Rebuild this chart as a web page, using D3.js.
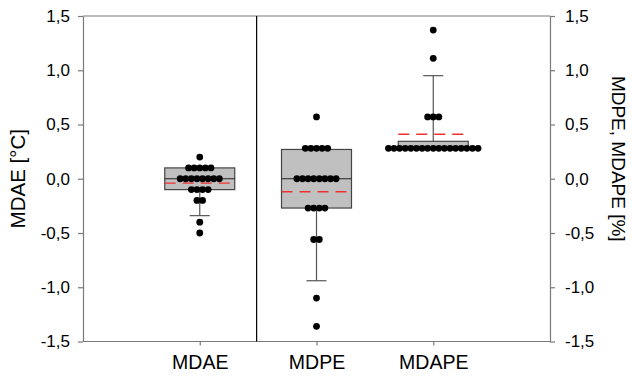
<!DOCTYPE html>
<html>
<head>
<meta charset="utf-8">
<script src="https://cdn.jsdelivr.net/npm/d3@7"></script>
<style>
  body { margin: 0; background: #fff; }
  svg text { font-family: "Liberation Sans", Arial, sans-serif; fill: #000; }
</style>
</head>
<body>
<div id="chart"></div>
<script>
// categories and per-category values
var categories = ["MDAE", "MDPE", "MDAPE"];

var mdae  = [0.2, 0.1, 0.1, 0.1, 0.1, 0.1, 0, 0, 0, 0, 0, 0, 0, 0,
             -0.1, -0.1, -0.1, -0.1, -0.2, -0.2, -0.4, -0.5];
var mdpe  = [0.57, 0.28, 0.28, 0.28, 0.28, 0.28, 0, 0, 0, 0, 0, 0, 0, 0,
             -0.27, -0.27, -0.27, -0.27, -0.56, -0.56, -1.1, -1.36];
var mdape = [1.37, 1.11, 0.57, 0.57, 0.57, 0.28, 0.28, 0.28, 0.28, 0.28, 0.28,
             0.28, 0.28, 0.28, 0.28, 0.28, 0.28, 0.28, 0.28, 0.28, 0.28, 0.28];

// box statistics per category
var q1          = [-0.1, -0.27, 0.28];
var medians     = [0, 0, 0.28];
var q3          = [0.1, 0.27, 0.345];
var whiskerLow  = [-0.34, -0.94, 0.28];
var whiskerHigh = [0.1, 0.27, 0.95];
var means       = [-0.04, -0.12, 0.41];

var yTicks = [-1.5, -1.0, -0.5, 0, 0.5, 1.0, 1.5];

var series = [mdae, mdpe, mdape];

var width = 632, height = 381;
var margin = {top: 16, right: 82, bottom: 40, left: 83};

var svg = d3.select("#chart").append("svg")
    .attr("width", width)
    .attr("height", height);

var x = d3.scalePoint()
    .domain(categories)
    .range([margin.left, width - margin.right])
    .padding(1);

var y = d3.scaleLinear()
    .domain([-1.5, 1.5])
    .range([height - margin.bottom + 0.5, margin.top]);

var loc = d3.formatLocale({decimal: ",", thousands: ".", grouping: [3], currency: ["", ""], minus: "-"});
var fmt = loc.format(".1f");

var axisColor = "#7a7a7a";

// left axis
var gl = svg.append("g")
    .attr("transform", "translate(" + margin.left + ",0)")
    .call(d3.axisLeft(y).tickValues(yTicks).tickFormat(fmt).tickSize(5).tickPadding(8).tickSizeOuter(0));
// right axis
var gr = svg.append("g")
    .attr("transform", "translate(" + (width - margin.right) + ",0)")
    .call(d3.axisRight(y).tickValues(yTicks).tickFormat(fmt).tickSize(5).tickPadding(10).tickSizeOuter(0));
// bottom axis
var gb = svg.append("g")
    .attr("transform", "translate(0," + y(-1.5) + ")")
    .call(d3.axisBottom(x).tickSize(4).tickPadding(10).tickSizeOuter(0));

[gl, gr, gb].forEach(function(g) {
  g.selectAll("path, line").attr("stroke", axisColor).attr("stroke-width", 1.2);
  g.selectAll("text").attr("font-size", 17).attr("fill", "#000");
});
gb.selectAll("text").attr("font-size", 19.5);
gb.select(".domain").attr("d", "M" + margin.left + ",0H" + (width - margin.right));

// top frame line
svg.append("line")
    .attr("x1", margin.left).attr("x2", width - margin.right)
    .attr("y1", y(1.5)).attr("y2", y(1.5))
    .attr("stroke", axisColor).attr("stroke-width", 1.2);

// divider between MDAE and the percent metrics
var divX = (x("MDAE") + x("MDPE")) / 2 - 1.5;
svg.append("line")
    .attr("x1", divX).attr("x2", divX)
    .attr("y1", y(1.5)).attr("y2", y(-1.5))
    .attr("stroke", "#000").attr("stroke-width", 1.2);

// axis titles
svg.append("text")
    .attr("transform", "translate(25," + y(0) + ") rotate(-90)")
    .attr("text-anchor", "middle")
    .attr("font-size", 20.5)
    .text("MDAE [°C]");
svg.append("text")
    .attr("transform", "translate(612," + (y(0) - 20) + ") rotate(90)")
    .attr("text-anchor", "middle")
    .attr("font-size", 19)
    .text("MDPE, MDAPE [%]");

var boxW = 70, capW = 20, dotStep = 5.6, dotR = 3.4;

categories.forEach(function(c, i) {
  var cx = x(c);
  var g = svg.append("g");

  // whiskers
  if (whiskerLow[i] < q1[i]) {
    g.append("line").attr("x1", cx).attr("x2", cx)
      .attr("y1", y(q1[i])).attr("y2", y(whiskerLow[i]))
      .attr("stroke", "#555").attr("stroke-width", 1.2);
    g.append("line").attr("x1", cx - capW / 2).attr("x2", cx + capW / 2)
      .attr("y1", y(whiskerLow[i])).attr("y2", y(whiskerLow[i]))
      .attr("stroke", "#555").attr("stroke-width", 1.2);
  }
  if (whiskerHigh[i] > q3[i]) {
    g.append("line").attr("x1", cx).attr("x2", cx)
      .attr("y1", y(q3[i])).attr("y2", y(whiskerHigh[i]))
      .attr("stroke", "#555").attr("stroke-width", 1.2);
    g.append("line").attr("x1", cx - capW / 2).attr("x2", cx + capW / 2)
      .attr("y1", y(whiskerHigh[i])).attr("y2", y(whiskerHigh[i]))
      .attr("stroke", "#555").attr("stroke-width", 1.2);
  }

  // box
  g.append("rect")
    .attr("x", cx - boxW / 2)
    .attr("y", y(q3[i]))
    .attr("width", boxW)
    .attr("height", y(q1[i]) - y(q3[i]))
    .attr("fill", "#c0c0c0")
    .attr("stroke", "#444")
    .attr("stroke-width", 1.2);

  // median
  g.append("line")
    .attr("x1", cx - boxW / 2).attr("x2", cx + boxW / 2)
    .attr("y1", y(medians[i])).attr("y2", y(medians[i]))
    .attr("stroke", "#222").attr("stroke-width", 1.2);

  // mean (red dashed)
  g.append("line")
    .attr("x1", cx - boxW / 2).attr("x2", cx + boxW / 2 - 3)
    .attr("y1", y(means[i])).attr("y2", y(means[i]))
    .attr("stroke", "#f03030").attr("stroke-width", 1.3)
    .attr("stroke-dasharray", "11,7");

  // data points, spread horizontally within equal-value rows
  var rows = d3.group(series[i], function(v) { return v; });
  rows.forEach(function(vals, v) {
    var n = vals.length;
    vals.forEach(function(_, k) {
      g.append("circle")
        .attr("cx", cx + (k - (n - 1) / 2) * dotStep)
        .attr("cy", y(v))
        .attr("r", dotR)
        .attr("fill", "#000");
    });
  });
});
</script>
</body>
</html>
